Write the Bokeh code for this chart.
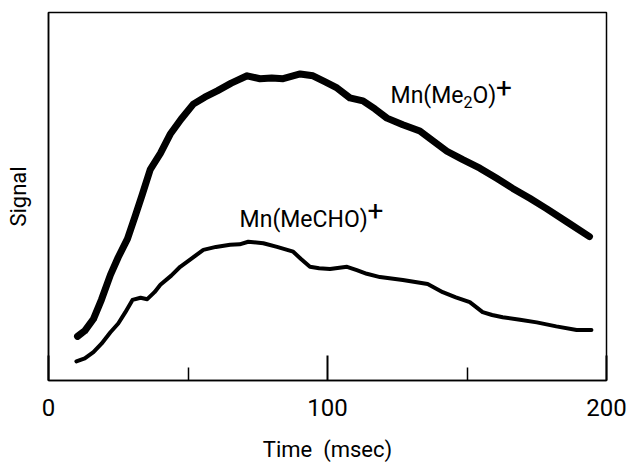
from bokeh.plotting import figure
from bokeh.models import Range1d, FixedTicker, Label
from bokeh.embed import file_html
from bokeh.resources import INLINE

# Mn(Me2O)+ trace (time in msec, signal in arbitrary units 0-100)
me2o_t = [10.4, 13.0, 16.1, 19.0, 22.2, 25.0, 28.3, 31.0, 33.6, 36.5, 40.1, 43.6,
          47.5, 51.9, 56.0, 60.5, 65.5, 71.2, 75.8, 80.0, 84.1, 90.2, 94.8, 99.0,
          103.4, 108.0, 112.7, 117.0, 121.3, 127.0, 133.1, 138.0, 142.8, 148.5,
          154.6, 160.5, 166.4, 172.5, 178.5, 186.0, 193.9]
me2o_s = [12.0, 13.5, 16.7, 22.0, 28.7, 33.5, 38.5, 44.5, 50.5, 57.4, 61.7, 66.9,
          71.0, 75.1, 77.0, 78.7, 80.8, 82.8, 82.0, 82.2, 82.0, 83.3, 82.8, 81.2,
          79.5, 76.8, 76.0, 73.8, 71.3, 69.5, 67.8, 65.0, 62.3, 60.0, 57.7, 55.0,
          52.2, 49.5, 46.7, 43.0, 39.1]

# Mn(MeCHO)+ trace
mecho_t = [10.0, 13.0, 16.1, 19.0, 22.2, 25.0, 27.5, 30.1, 33.0, 35.4, 38.0, 40.1,
           44.0, 47.2, 51.0, 55.5, 60.0, 65.1, 68.5, 71.6, 77.0, 81.9, 87.7, 90.5,
           93.7, 97.0, 100.9, 107.0, 110.5, 114.1, 118.8, 127.0, 135.9, 141.3,
           146.0, 151.0, 155.6, 159.0, 162.8, 169.0, 175.0, 182.0, 189.3, 194.6]
mecho_s = [5.2, 6.0, 7.7, 10.0, 13.1, 15.5, 18.5, 21.9, 22.5, 22.1, 24.0, 26.0,
           28.5, 30.9, 33.0, 35.5, 36.3, 36.9, 37.0, 37.7, 37.3, 36.3, 35.0, 33.0,
           30.9, 30.5, 30.3, 30.9, 30.0, 29.0, 28.1, 27.3, 26.2, 24.0, 22.6, 21.3,
           18.6, 17.8, 17.2, 16.5, 15.8, 14.7, 13.7, 13.7]

x_ticks = [0, 100, 200]
x_minor = [50, 150]
FONT = "Roboto"

p = figure(width=634, height=465, output_backend="svg", toolbar_location=None,
           x_range=Range1d(0, 200), y_range=Range1d(0, 100),
           min_border_left=48, min_border_right=28, min_border_top=12,
           min_border_bottom=85)
p.xgrid.visible = False
p.ygrid.visible = False
p.outline_line_color = "black"
p.outline_line_width = 1.5
p.background_fill_color = "white"
p.border_fill_color = "white"

p.line(me2o_t, me2o_s, line_color="black", line_width=7, line_join="round", line_cap="round")
p.line(mecho_t, mecho_s, line_color="black", line_width=4, line_join="round", line_cap="round")

xa = p.xaxis[0]
xa.ticker = FixedTicker(ticks=x_ticks, minor_ticks=x_minor)
xa.major_tick_in = 25
xa.major_tick_out = 0
xa.minor_tick_in = 13
xa.minor_tick_out = 0
xa.major_tick_line_color = "black"
xa.minor_tick_line_color = "black"
xa.major_tick_line_width = 2
xa.minor_tick_line_width = 1.5
xa.axis_line_width = 1.5
xa.major_label_text_font = FONT
xa.major_label_text_font_size = "24px"
xa.major_label_text_color = "black"
xa.major_label_standoff = 18
xa.axis_label = "Time\u00a0\u00a0(msec)"
xa.axis_label_text_font = FONT
xa.axis_label_text_font_size = "22px"
xa.axis_label_text_font_style = "normal"
xa.axis_label_text_color = "black"
xa.axis_label_standoff = 18

ya = p.yaxis[0]
ya.ticker = FixedTicker(ticks=[])
ya.major_tick_in = 0
ya.major_tick_out = 0
ya.minor_tick_in = 0
ya.minor_tick_out = 0
ya.axis_line_width = 1.5
ya.axis_label = "Signal"
ya.axis_label_text_font = FONT
ya.axis_label_text_font_size = "22px"
ya.axis_label_text_font_style = "normal"
ya.axis_label_text_color = "black"
ya.axis_label_standoff = 18

# approximate Roboto advance widths (em)
ADV = {'M': 0.873, 'n': 0.551, '(': 0.342, ')': 0.348, 'e': 0.528, 'O': 0.679,
       'C': 0.652, 'H': 0.713, '2': 0.562, '+': 0.566}


def width(s, size):
    return sum(ADV.get(c, 0.55) for c in s) * size


def chem_label(x, y, pieces):
    off = 0.0
    for text, dy, size in pieces:
        p.add_layout(Label(x=x, y=y, x_offset=off, y_offset=dy, text=text,
                           text_font=FONT, text_font_size=f"{size}px",
                           text_color="black", text_align="left",
                           text_baseline="alphabetic"))
        off += width(text, size) + (2 if text == "+" else 0)


chem_label(122.6, 77.4, [("Mn(Me", 0, 23), ("2", -6, 16), ("O)", 0, 23), ("+", 9, 28)])
chem_label(68.5, 43.8, [("Mn(MeCHO)", 0, 23), ("+", 9, 28)])

open("out.html", "w").write(file_html(p, INLINE))
